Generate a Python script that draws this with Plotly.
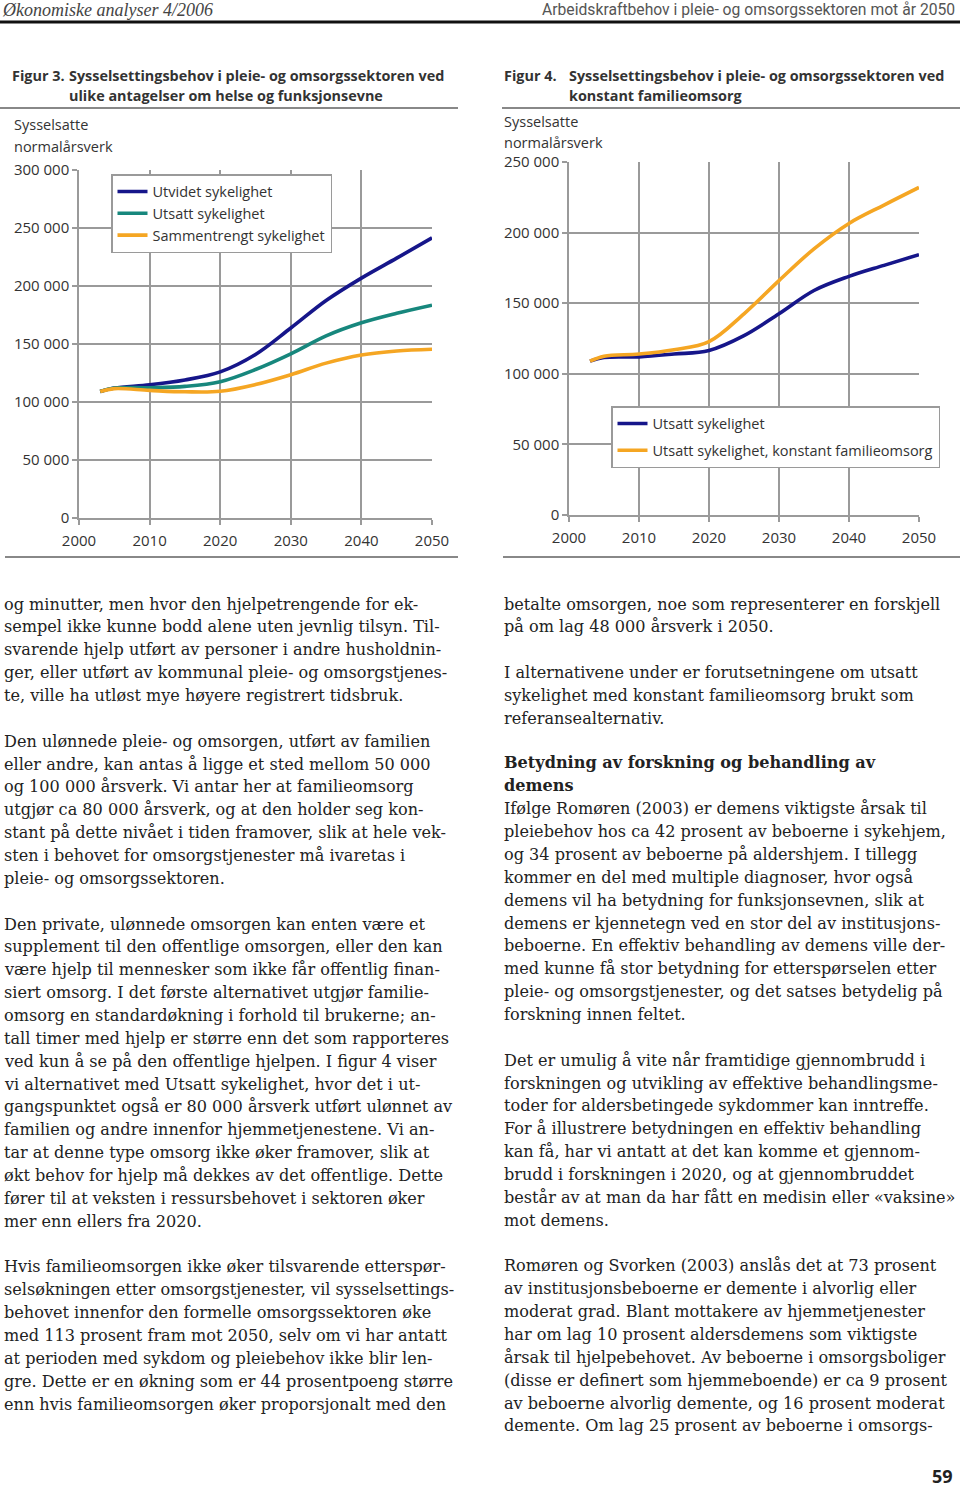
import plotly.graph_objects as go

W, H = 960, 1491

# ---------------- data ----------------
years = [2003, 2005, 2010, 2015, 2020, 2025, 2030, 2035, 2040, 2045, 2050]

fig3_utvidet = [109000, 112000, 114800, 119000, 126000, 141000, 163800, 187500, 206800, 224000, 241500]
fig3_utsatt = [109000, 112000, 112300, 113500, 117500, 128000, 141500, 157000, 168300, 176500, 183500]
fig3_sammentrengt = [109000, 111500, 110000, 108800, 109200, 115000, 123500, 133500, 140500, 144000, 145500]

fig4_utsatt = [109000, 111500, 112000, 114000, 116500, 127000, 142500, 159000, 169000, 176800, 184400]
fig4_konstant = [109000, 112500, 114000, 117000, 122800, 142500, 166000, 188500, 206500, 219500, 232000]

x_ticks = [2000, 2010, 2020, 2030, 2040, 2050]
x_tick_labels = ["2000", "2010", "2020", "2030", "2040", "2050"]
fig3_y_ticks = [0, 50000, 100000, 150000, 200000, 250000, 300000]
fig3_y_labels = ["0", "50 000", "100 000", "150 000", "200 000", "250 000", "300 000"]
fig4_y_ticks = [0, 50000, 100000, 150000, 200000, 250000]
fig4_y_labels = ["0", "50 000", "100 000", "150 000", "200 000", "250 000"]

fig3_names = ["Utvidet sykelighet", "Utsatt sykelighet", "Sammentrengt sykelighet"]
fig4_names = ["Utsatt sykelighet", "Utsatt sykelighet, konstant familieomsorg"]

header_left = "Økonomiske analyser 4/2006"
header_right = "Arbeidskraftbehov i pleie- og omsorgssektoren mot år 2050"
fig3_label = "Figur 3."
fig3_title = ["Sysselsettingsbehov i pleie- og omsorgssektoren ved",
              "ulike antagelser om helse og funksjonsevne"]
fig4_label = "Figur 4."
fig4_title = ["Sysselsettingsbehov i pleie- og omsorgssektoren ved",
              "konstant familieomsorg"]
y_title = ["Sysselsatte", "normalårsverk"]
page_number = "59"

left_paragraphs = [
    ["og minutter, men hvor den hjelpetrengende for ek-",
     "sempel ikke kunne bodd alene uten jevnlig tilsyn. Til-",
     "svarende hjelp utført av personer i andre husholdnin-",
     "ger, eller utført av kommunal pleie- og omsorgstjenes-",
     "te, ville ha utløst mye høyere registrert tidsbruk."],
    ["Den ulønnede pleie- og omsorgen, utført av familien",
     "eller andre, kan antas å ligge et sted mellom 50 000",
     "og 100 000 årsverk. Vi antar her at familieomsorg",
     "utgjør ca 80 000 årsverk, og at den holder seg kon-",
     "stant på dette nivået i tiden framover, slik at hele vek-",
     "sten i behovet for omsorgstjenester må ivaretas i",
     "pleie- og omsorgssektoren."],
    ["Den private, ulønnede omsorgen kan enten være et",
     "supplement til den offentlige omsorgen, eller den kan",
     "være hjelp til mennesker som ikke får offentlig finan-",
     "siert omsorg. I det første alternativet utgjør familie-",
     "omsorg en standardøkning i forhold til brukerne; an-",
     "tall timer med hjelp er større enn det som rapporteres",
     "ved kun å se på den offentlige hjelpen. I figur 4 viser",
     "vi alternativet med Utsatt sykelighet, hvor det i ut-",
     "gangspunktet også er 80 000 årsverk utført ulønnet av",
     "familien og andre innenfor hjemmetjenestene. Vi an-",
     "tar at denne type omsorg ikke øker framover, slik at",
     "økt behov for hjelp må dekkes av det offentlige. Dette",
     "fører til at veksten i ressursbehovet i sektoren øker",
     "mer enn ellers fra 2020."],
    ["Hvis familieomsorgen ikke øker tilsvarende etterspør-",
     "selsøkningen etter omsorgstjenester, vil sysselsettings-",
     "behovet innenfor den formelle omsorgssektoren øke",
     "med 113 prosent fram mot 2050, selv om vi har antatt",
     "at perioden med sykdom og pleiebehov ikke blir len-",
     "gre. Dette er en økning som er 44 prosentpoeng større",
     "enn hvis familieomsorgen øker proporsjonalt med den"],
]

right_paragraphs = [
    ["betalte omsorgen, noe som representerer en forskjell",
     "på om lag 48 000 årsverk i 2050."],
    ["I alternativene under er forutsetningene om utsatt",
     "sykelighet med konstant familieomsorg brukt som",
     "referansealternativ."],
    ["<b>Betydning av forskning og behandling av</b>",
     "<b>demens</b>",
     "Ifølge Romøren (2003) er demens viktigste årsak til",
     "pleiebehov hos ca 42 prosent av beboerne i sykehjem,",
     "og 34 prosent av beboerne på aldershjem. I tillegg",
     "kommer en del med multiple diagnoser, hvor også",
     "demens vil ha betydning for funksjonsevnen, slik at",
     "demens er kjennetegn ved en stor del av institusjons-",
     "beboerne. En effektiv behandling av demens ville der-",
     "med kunne få stor betydning for etterspørselen etter",
     "pleie- og omsorgstjenester, og det satses betydelig på",
     "forskning innen feltet."],
    ["Det er umulig å vite når framtidige gjennombrudd i",
     "forskningen og utvikling av effektive behandlingsme-",
     "toder for aldersbetingede sykdommer kan inntreffe.",
     "For å illustrere betydningen en effektiv behandling",
     "kan få, har vi antatt at det kan komme et gjennom-",
     "brudd i forskningen i 2020, og at gjennombruddet",
     "består av at man da har fått en medisin eller «vaksine»",
     "mot demens."],
    ["Romøren og Svorken (2003) anslås det at 73 prosent",
     "av institusjonsbeboerne er demente i alvorlig eller",
     "moderat grad. Blant mottakere av hjemmetjenester",
     "har om lag 10 prosent aldersdemens som viktigste",
     "årsak til hjelpebehovet. Av beboerne i omsorgsboliger",
     "(disse er definert som hjemmeboende) er ca 9 prosent",
     "av beboerne alvorlig demente, og 16 prosent moderat",
     "demente. Om lag 25 prosent av beboerne i omsorgs-"],
]

# ---------------- styling ----------------
BLUE = "#16168a"
TEAL = "#17877d"
ORANGE = "#f5a623"
GRID = "#9a9a9a"
TXT = "#333333"
SANS = "Open Sans"
SERIF = "DejaVu Serif"


def px(x):
    return x / W


def py(y):
    return 1 - y / H


fig = go.Figure()

fig3_colors = [BLUE, TEAL, ORANGE]
for i, (name, vals) in enumerate(zip(fig3_names, [fig3_utvidet, fig3_utsatt, fig3_sammentrengt])):
    fig.add_trace(go.Scatter(
        x=years, y=vals, name=name, mode="lines",
        line=dict(color=fig3_colors[i], width=3.6, shape="spline", smoothing=1.0),
        xaxis="x", yaxis="y", legend="legend", legendgroup=f"a{i}"))

fig4_colors = [BLUE, ORANGE]
for i, (name, vals) in enumerate(zip(fig4_names, [fig4_utsatt, fig4_konstant])):
    fig.add_trace(go.Scatter(
        x=years, y=vals, name=name, mode="lines",
        line=dict(color=fig4_colors[i], width=3.6, shape="spline", smoothing=1.0),
        xaxis="x2", yaxis="y2", legend="legend2", legendgroup=f"b{i}"))

axis_common = dict(
    showgrid=True, gridcolor=GRID, gridwidth=1.5,
    showline=True, linecolor=GRID, linewidth=1.5,
    ticks="outside", ticklen=5, tickcolor=GRID, tickwidth=1.5,
    zeroline=False, fixedrange=True, automargin=False,
    tickfont=dict(family=SANS, size=15, color=TXT),
)

fig.update_layout(
    width=W, height=H,
    autosize=False,
    margin=dict(l=0, r=0, t=0, b=0, pad=0, autoexpand=False),
    paper_bgcolor="white", plot_bgcolor="white",
    showlegend=True,
    xaxis=dict(domain=[px(79), px(432)], range=[2000, 2050], anchor="y",
               tickvals=x_ticks, ticktext=x_tick_labels, ticklabelstandoff=3, **axis_common),
    yaxis=dict(domain=[py(518), py(170)], range=[0, 300000], anchor="x",
               tickvals=fig3_y_ticks, ticktext=fig3_y_labels, **axis_common),
    xaxis2=dict(domain=[px(569), px(919)], range=[2000, 2050], anchor="y2",
                tickvals=x_ticks, ticktext=x_tick_labels, ticklabelstandoff=3, **axis_common),
    yaxis2=dict(domain=[py(515), py(162)], range=[0, 250000], anchor="x2",
                tickvals=fig4_y_ticks, ticktext=fig4_y_labels, **axis_common),
    legend=dict(x=px(111), y=py(174), xanchor="left", yanchor="top",
                bgcolor="white", bordercolor=GRID, borderwidth=1.5,
                font=dict(family=SANS, size=14.5, color=TXT),
                tracegroupgap=0, itemwidth=30),
    legend2=dict(x=px(611), y=py(406), xanchor="left", yanchor="top",
                 bgcolor="white", bordercolor=GRID, borderwidth=1.5,
                 font=dict(family=SANS, size=14.5, color=TXT),
                 tracegroupgap=5, itemwidth=30),
)

ann = []
shapes = []


def text(x, y, s, size, family=SANS, color=TXT, xanchor="left"):
    ann.append(dict(x=px(x), y=py(y), xref="paper", yref="paper", text=s,
                    showarrow=False, xanchor=xanchor, yanchor="middle",
                    font=dict(family=family, size=size, color=color)))


def hline(x0, x1, y, color, width):
    shapes.append(dict(type="line", xref="paper", yref="paper",
                       x0=px(x0), x1=px(x1), y0=py(y), y1=py(y),
                       line=dict(color=color, width=width)))


# header
text(0, 10, "<i>" + header_left + "</i>", 18, family="Liberation Serif", color="#444444")
text(957, 10, header_right, 15.7, family="Roboto", color="#555555", xanchor="right")
hline(0, 960, 22, "#111111", 3)

# figure titles
TS = 14.4
text(10, 75, "<b>" + fig3_label + "</b>", TS)
text(67, 75, "<b>" + fig3_title[0] + "</b>", TS)
text(67, 95, "<b>" + fig3_title[1] + "</b>", TS)
hline(0, 458, 108, "#888888", 2)
text(502, 75, "<b>" + fig4_label + "</b>", TS)
text(567, 75, "<b>" + fig4_title[0] + "</b>", TS)
text(567, 95, "<b>" + fig4_title[1] + "</b>", TS)
hline(502, 960, 108, "#888888", 2)

# axis titles
text(12, 124, y_title[0], 14.5)
text(12, 146, y_title[1], 14.5)
text(502, 121, y_title[0], 14.5)
text(502, 142, y_title[1], 14.5)

# bottom rules
hline(5, 458, 557, "#888888", 2)
hline(503, 960, 557, "#888888", 2)

# body text
LINE = 22.86
BODY_SIZE = 16.1
BODY_COLOR = "#222222"


def column(paragraphs, x, y0):
    y = y0
    for p in paragraphs:
        for line in p:
            text(x, y, line, BODY_SIZE, family=SERIF, color=BODY_COLOR)
            y += LINE
        y += LINE


column(left_paragraphs, 2, 604)
column(right_paragraphs[:2], 502, 604)
column(right_paragraphs[2:], 502, 763)

text(955, 1476, "<b>" + page_number + "</b>", 18, color="#222222", xanchor="right")

fig.update_layout(annotations=ann, shapes=shapes)
fig.write_html(
    "out.html",
    config={"displayModeBar": False},
    post_script="document.body.style.margin='0';document.body.style.overflow='hidden';",
)
